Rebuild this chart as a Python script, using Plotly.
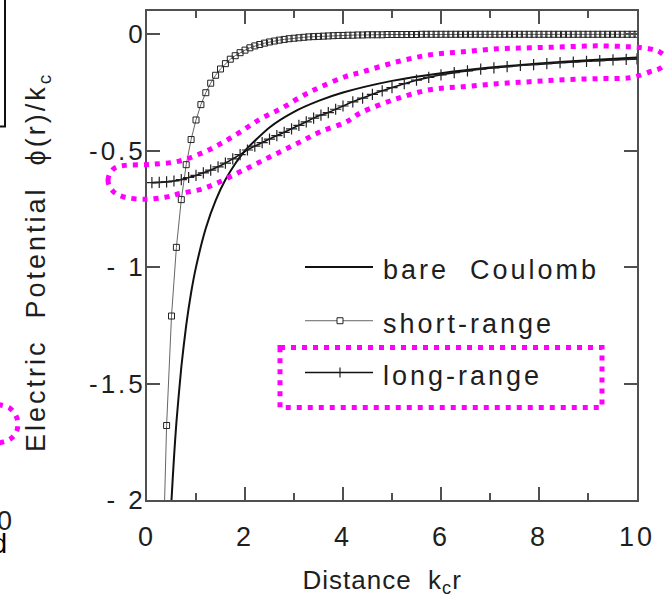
import plotly.graph_objects as go

# ---- data -------------------------------------------------------------
# bare Coulomb potential
coulomb_r = [0.45, 0.5, 0.55, 0.6, 0.7, 0.8, 0.9, 1.0, 1.2, 1.4, 1.6, 1.8,
             2.0, 2.5, 3.0, 3.5, 4.0, 5.0, 6.0, 7.0, 8.0, 9.0, 10.0]
coulomb_phi = [-2.22, -2.0, -1.82, -1.667, -1.43, -1.25, -1.11, -1.0, -0.833,
               -0.714, -0.625, -0.556, -0.5, -0.4, -0.333, -0.286, -0.25,
               -0.2, -0.167, -0.143, -0.125, -0.111, -0.1]

# short-range part (sampled every 0.1)
short_r = [0.3, 0.4, 0.5, 0.6, 0.7, 0.8, 0.9, 1.0, 1.1, 1.2,
           1.3, 1.4, 1.5, 1.6, 1.7, 1.8, 1.9, 2.0, 2.1, 2.2,
           2.3, 2.4, 2.5, 2.6, 2.7, 2.8, 2.9, 3.0, 3.1, 3.2,
           3.3, 3.4, 3.5, 3.6, 3.7, 3.8, 3.9, 4.0, 4.1, 4.2,
           4.3, 4.4, 4.5, 4.6, 4.7, 4.8, 4.9, 5.0, 5.1, 5.2,
           5.3, 5.4, 5.5, 5.6, 5.7, 5.8, 5.9, 6.0, 6.1, 6.2,
           6.3, 6.4, 6.5, 6.6, 6.7, 6.8, 6.9, 7.0, 7.1, 7.2,
           7.3, 7.4, 7.5, 7.6, 7.7, 7.8, 7.9, 8.0, 8.1, 8.2,
           8.3, 8.4, 8.5, 8.6, 8.7, 8.8, 8.9, 9.0, 9.1, 9.2,
           9.3, 9.4, 9.5, 9.6, 9.7, 9.8, 9.9, 10.0]
short_phi = [-2.47, -1.68, -1.21, -0.915, -0.71, -0.56, -0.452, -0.368, -0.302, -0.251,
             -0.210, -0.176, -0.149, -0.126, -0.107, -0.092, -0.079, -0.068, -0.058, -0.050,
             -0.044, -0.038, -0.033, -0.029, -0.025, -0.022, -0.019, -0.017, -0.015, -0.013,
             -0.011, -0.010, -0.009, -0.008, -0.007, -0.006, -0.005, -0.005, -0.004, -0.004,
             -0.003, -0.003, -0.002, -0.002, -0.002, -0.002, -0.001, -0.001, -0.001, -0.001,
             -0.001, -0.001, -0.001, 0.0, 0.0, 0.0, 0.0, 0.0, 0.0, 0.0,
             0.0, 0.0, 0.0, 0.0, 0.0, 0.0, 0.0, 0.0, 0.0, 0.0,
             0.0, 0.0, 0.0, 0.0, 0.0, 0.0, 0.0, 0.0, 0.0, 0.0,
             0.0, 0.0, 0.0, 0.0, 0.0, 0.0, 0.0, 0.0, 0.0, 0.0,
             0.0, 0.0, 0.0, 0.0, 0.0, 0.0, 0.0, 0.0]

# long-range part
long_r = [0.10, 0.25, 0.40, 0.55, 0.70, 0.85, 1.00, 1.15, 1.30, 1.45,
          1.60, 1.75, 1.90, 2.05, 2.20, 2.35, 2.50, 2.65, 2.80, 2.95,
          3.10, 3.25, 3.40, 3.55, 3.70, 3.85, 4.00, 4.20, 4.40, 4.60,
          4.80, 5.00, 5.25, 5.50, 5.75, 6.00, 6.27, 6.54, 6.81, 7.08,
          7.35, 7.62, 7.89, 8.16, 8.43, 8.70, 8.97, 9.24, 9.51, 9.78, 10.0]
long_phi = [-0.637, -0.636, -0.634, -0.630, -0.624, -0.615, -0.606, -0.595, -0.583, -0.569,
            -0.553, -0.535, -0.517, -0.497, -0.480, -0.465, -0.450, -0.435, -0.421, -0.406,
            -0.391, -0.376, -0.360, -0.347, -0.336, -0.322, -0.308, -0.290, -0.274, -0.258,
            -0.243, -0.229, -0.212, -0.197, -0.185, -0.174, -0.165, -0.157, -0.150, -0.144,
            -0.139, -0.134, -0.130, -0.126, -0.122, -0.119, -0.116, -0.113, -0.110, -0.108, -0.106]

x_ticks = [0, 2, 4, 6, 8, 10]
x_labels = ["0", "2", "4", "6", "8", "10"]
y_ticks = [0, -0.5, -1, -1.5, -2]
y_labels = ["0", "-0.5", "- 1", "-1.5", "- 2"]

series_names = ["bare  Coulomb", "short-range", "long-range"]

# ---- page geometry (pixels) -------------------------------------------
W, H = 664, 601
L, R, T, B = 147, 27, 9, 101
PW, PH = W - L - R, H - T - B

FONT = "Liberation Sans, Arial, sans-serif"
INK = "#1e1e1e"
FRAME = "#505050"
MAGENTA = "#ff00ff"


def px(x):
    return (x - L) / PW


def py(y):
    return (H - B - y) / PH


def smooth_path(points, closed=False):
    """Catmull-Rom spline through pixel points, returned as a paper-space SVG path."""
    pts = [(px(a), py(b)) for a, b in points]
    n = len(pts)
    seq = pts + pts[:3] if closed else [pts[0]] + pts + [pts[-1]]
    d = "M %.5f,%.5f" % pts[0]
    segs = n if closed else n - 1
    for i in range(segs):
        if closed:
            p0, p1, p2, p3 = seq[i - 1] if i > 0 else pts[-1], seq[i], seq[i + 1], seq[i + 2]
        else:
            p0, p1, p2, p3 = seq[i], seq[i + 1], seq[i + 2], seq[i + 3]
        c1 = (p1[0] + (p2[0] - p0[0]) / 6, p1[1] + (p2[1] - p0[1]) / 6)
        c2 = (p2[0] - (p3[0] - p1[0]) / 6, p2[1] - (p3[1] - p1[1]) / 6)
        d += " C %.5f,%.5f %.5f,%.5f %.5f,%.5f" % (c1 + c2 + p2)
    if closed:
        d += " Z"
    return d


fig = go.Figure()

fig.add_trace(go.Scatter(
    x=coulomb_r, y=coulomb_phi, mode="lines", name=series_names[0],
    line=dict(color="#111111", width=2, shape="spline", smoothing=0.6),
))
fig.add_trace(go.Scatter(
    x=short_r, y=short_phi, mode="lines+markers", name=series_names[1],
    line=dict(color="#666666", width=1),
    marker=dict(symbol="square-open", size=6, color="#222222", line=dict(width=1)),
))
fig.add_trace(go.Scatter(
    x=long_r, y=long_phi, mode="lines+markers", name=series_names[2],
    line=dict(color="#111111", width=1.6, shape="spline", smoothing=0.6),
    marker=dict(symbol="cross-thin-open", size=8, color="#222222", line=dict(width=1.2)),
))

shapes = []
annotations = []

# hand-drawn legend
legend_rows = [(266, "#111111", 2.0), (320, "#666666", 1.0), (372, "#111111", 1.6)]
for (yy, col, lw), name in zip(legend_rows, series_names):
    shapes.append(dict(type="line", xref="paper", yref="paper",
                       x0=px(305), x1=px(373), y0=py(yy), y1=py(yy),
                       line=dict(color=col, width=lw)))
    annotations.append(dict(text=name, xref="paper", yref="paper",
                            x=px(381), y=py(yy + 3), xanchor="left", yanchor="middle",
                            align="left", showarrow=False,
                            font=dict(family=FONT, size=27, color=INK)))
shapes.append(dict(type="rect", xref="paper", yref="paper",
                   x0=px(337), x1=px(343), y0=py(317), y1=py(323),
                   fillcolor="white", line=dict(color="#222222", width=1)))
shapes.append(dict(type="line", xref="paper", yref="paper",
                   x0=px(340), x1=px(340), y0=py(367), y1=py(377),
                   line=dict(color="#222222", width=1.2)))

# magenta highlight around the long-range curve
loop = [(108, 179), (113, 168), (125, 164), (151, 163), (178, 160), (201, 152),
        (221, 142), (241, 130), (261, 117), (281, 107), (301, 95), (321, 85),
        (345, 75), (363, 70), (397, 60), (430, 53), (463, 50), (497, 47),
        (530, 46), (563, 45), (597, 44), (630, 45), (650, 47), (661, 51),
        (667, 58), (661, 66), (650, 70), (630, 76), (597, 77), (563, 78),
        (530, 80), (497, 82), (463, 85), (430, 88), (397, 97), (363, 110),
        (345, 121), (321, 130), (301, 140), (281, 150), (261, 160), (241, 170),
        (221, 180), (201, 188), (181, 192), (165, 196), (145, 198), (125, 196),
        (113, 190)]
dotted = dict(color=MAGENTA, width=5, dash="5px,6px")
shapes.append(dict(type="path", xref="paper", yref="paper",
                   path=smooth_path(loop, closed=True), line=dotted))
# magenta box around the long-range legend entry
shapes.append(dict(type="rect", xref="paper", yref="paper",
                   x0=px(280), x1=px(602), y0=py(347), y1=py(407), line=dotted))
# neighbouring panel fragments at the left edge
shapes.append(dict(type="path", xref="paper", yref="paper",
                   path=smooth_path([(-2, 404), (10, 408), (17, 418), (17, 430),
                                     (10, 439), (-2, 443)]),
                   line=dotted))
shapes.append(dict(type="path", xref="paper", yref="paper",
                   path="M %.5f,%.5f L %.5f,%.5f L %.5f,%.5f" % (
                       px(-2), py(125), px(5), py(125), px(5), py(-2)),
                   line=dict(color="#111111", width=2)))
annotations.append(dict(text="0", xref="paper", yref="paper", x=px(17), y=py(521),
                        xanchor="right", yanchor="middle", align="right", showarrow=False,
                        font=dict(family=FONT, size=27, color=INK)))
annotations.append(dict(text="d", xref="paper", yref="paper", x=px(12), y=py(544),
                        xanchor="right", yanchor="middle", align="right", showarrow=False,
                        font=dict(family=FONT, size=27, color="#000000")))

# axis titles
annotations.append(dict(text="Distance  k<sub>c</sub>r", xref="paper", yref="paper",
                        x=px(382), y=py(582), xanchor="center", yanchor="middle",
                        showarrow=False, font=dict(family=FONT, size=26, color=INK)))
annotations.append(dict(text="Electric  Potential  ϕ(r)/k<sub>c</sub>", xref="paper",
                        yref="paper", x=px(38), y=py(261), xanchor="center",
                        yanchor="middle", textangle=-90, showarrow=False,
                        font=dict(family=FONT, size=27, color=INK)))

axis_common = dict(showline=True, linecolor=FRAME, linewidth=2, mirror="ticks",
                   ticks="inside", tickcolor=FRAME, tickwidth=1.5, ticklen=13,
                   showgrid=False, zeroline=False)

fig.update_layout(
    width=W, height=H, autosize=False,
    margin=dict(l=L, r=R, t=T, b=B, pad=0),
    paper_bgcolor="white", plot_bgcolor="white",
    showlegend=False,
    font=dict(family=FONT, color=INK),
    xaxis=dict(range=[0, 10], tickvals=x_ticks, ticktext=x_labels,
               tickfont=dict(family=FONT, size=27, color=INK),
               minor=dict(dtick=1, ticks="inside", ticklen=7, tickcolor=FRAME, tickwidth=1.5),
               ticklabelstandoff=12, **axis_common),
    yaxis=dict(range=[-2, 0.1], tickvals=y_ticks, ticktext=y_labels,
               tickfont=dict(family=FONT, size=26, color=INK),
               ticklabelstandoff=-6, **axis_common),
    shapes=shapes,
    annotations=annotations,
)

# letter spacing for the typeset look; the axis title along x stays tighter
spacing_js = (
    "document.querySelectorAll('.main-svg text').forEach(function(t){"
    "var s='3px';"
    "if(t.textContent.indexOf('Distance')===0){s='1px';}"
    "t.style.letterSpacing=s;});"
)
fig.write_html("out.html", post_script=spacing_js)
